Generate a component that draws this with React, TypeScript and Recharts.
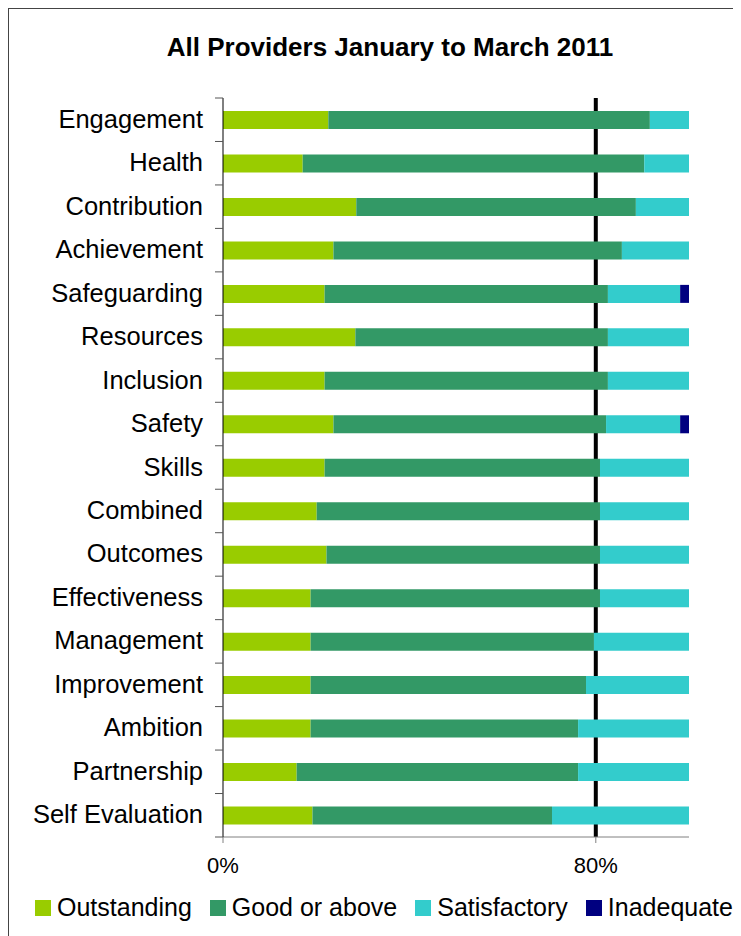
import React from 'react';
import { BarChart, Bar, XAxis, YAxis, ReferenceLine } from 'recharts';

const categories = ['Engagement', 'Health', 'Contribution', 'Achievement', 'Safeguarding', 'Resources', 'Inclusion', 'Safety', 'Skills', 'Combined', 'Outcomes', 'Effectiveness', 'Management', 'Improvement', 'Ambition', 'Partnership', 'Self Evaluation'];
const outstanding = [22.6, 17.1, 28.6, 23.7, 21.8, 28.4, 21.8, 23.7, 21.8, 20.1, 22.2, 18.8, 18.8, 18.8, 18.8, 15.8, 19.2];
const goodOrAbove = [69.0, 73.3, 60.0, 61.9, 60.8, 54.2, 60.8, 58.5, 59.1, 60.8, 58.7, 62.1, 60.8, 59.1, 57.4, 60.4, 51.4];
const satisfactory = [8.4, 9.6, 11.4, 14.4, 15.5, 17.4, 17.4, 15.9, 19.1, 19.1, 19.1, 19.1, 20.4, 22.1, 23.8, 23.8, 29.4];
const inadequate = [0, 0, 0, 0, 1.9, 0, 0, 1.9, 0, 0, 0, 0, 0, 0, 0, 0, 0];
const xTicks = [0, 80];

const series = [
    { key: 'outstanding', name: 'Outstanding', color: '#99CC00' },
    { key: 'good', name: 'Good or above', color: '#339966' },
    { key: 'satisfactory', name: 'Satisfactory', color: '#33CCCC' },
    { key: 'inadequate', name: 'Inadequate', color: '#000080' },
];

const data = categories.map((name, i) => ({
    name,
    outstanding: outstanding[i],
    good: goodOrAbove[i],
    satisfactory: satisfactory[i],
    inadequate: inadequate[i],
}));

const FONT = '"Liberation Sans", Arial, sans-serif';
const CHART_W = 728;
const CHART_H = 920;
const PLOT_LEFT = 214;
const PLOT_TOP = 89;
const PLOT_H = 739;
const PLOT_W = 466;
const BAND = PLOT_H / categories.length;

const CategoryTick = (props: any) => {
    const { y, payload, index } = props;
    return (
        <g>
            <text x={PLOT_LEFT - 20} y={y} dy={8} textAnchor="end" fontSize={25.5} fontFamily={FONT} fill="#000">
                {payload.value}
            </text>
            <line x1={PLOT_LEFT - 8} x2={PLOT_LEFT} y1={y - BAND / 2} y2={y - BAND / 2} stroke="#555" />
            {index === categories.length - 1 && (
                <line x1={PLOT_LEFT - 8} x2={PLOT_LEFT} y1={y + BAND / 2} y2={y + BAND / 2} stroke="#555" />
            )}
        </g>
    );
};

export default function App() {
    return (
        <div style={{ position: 'relative', width: CHART_W, height: 930, border: '1px solid #444', borderBottom: 'none', fontFamily: FONT, background: '#fff' }}>
            <div style={{ position: 'absolute', left: 13, top: 23, width: CHART_W + 8, textAlign: 'center', fontSize: 26, fontWeight: 'bold' }}>
                All Providers January to March 2011
            </div>
            <div style={{ position: 'absolute', left: 0, top: 0 }}>
                <BarChart
                    width={CHART_W}
                    height={CHART_H}
                    data={data}
                    layout="vertical"
                    barSize={18}
                    margin={{ top: PLOT_TOP, right: CHART_W - PLOT_LEFT - PLOT_W, bottom: CHART_H - PLOT_TOP - PLOT_H - 40, left: 0 }}
                >
                    {/* 80% target line sits behind the bars */}
                    <ReferenceLine x={80} stroke="#000" strokeWidth={4} zIndex={0} />
                    <XAxis
                        type="number"
                        domain={[0, 100]}
                        ticks={xTicks}
                        tickFormatter={(v) => `${v}%`}
                        height={40}
                        stroke="#808080"
                        tickSize={6}
                        tickMargin={14}
                        tick={{ fontSize: 22, fill: '#000', fontFamily: FONT }}
                    />
                    <YAxis
                        type="category"
                        dataKey="name"
                        width={PLOT_LEFT}
                        stroke="#000"
                        tickLine={false}
                        interval={0}
                        tick={<CategoryTick />}
                    />
                    {series.map((s) => (
                        <Bar key={s.key} dataKey={s.key} name={s.name} stackId="a" fill={s.color} isAnimationActive={false} />
                    ))}
                </BarChart>
            </div>
            <div style={{ position: 'absolute', left: 26, top: 884, display: 'flex', alignItems: 'center', fontSize: 25, whiteSpace: 'nowrap' }}>
                {series.map((s) => (
                    <div key={s.key} style={{ display: 'flex', alignItems: 'center', marginRight: 18 }}>
                        <span style={{ display: 'inline-block', width: 16, height: 16, background: s.color, marginRight: 6 }} />
                        <span>{s.name}</span>
                    </div>
                ))}
            </div>
        </div>
    );
}
